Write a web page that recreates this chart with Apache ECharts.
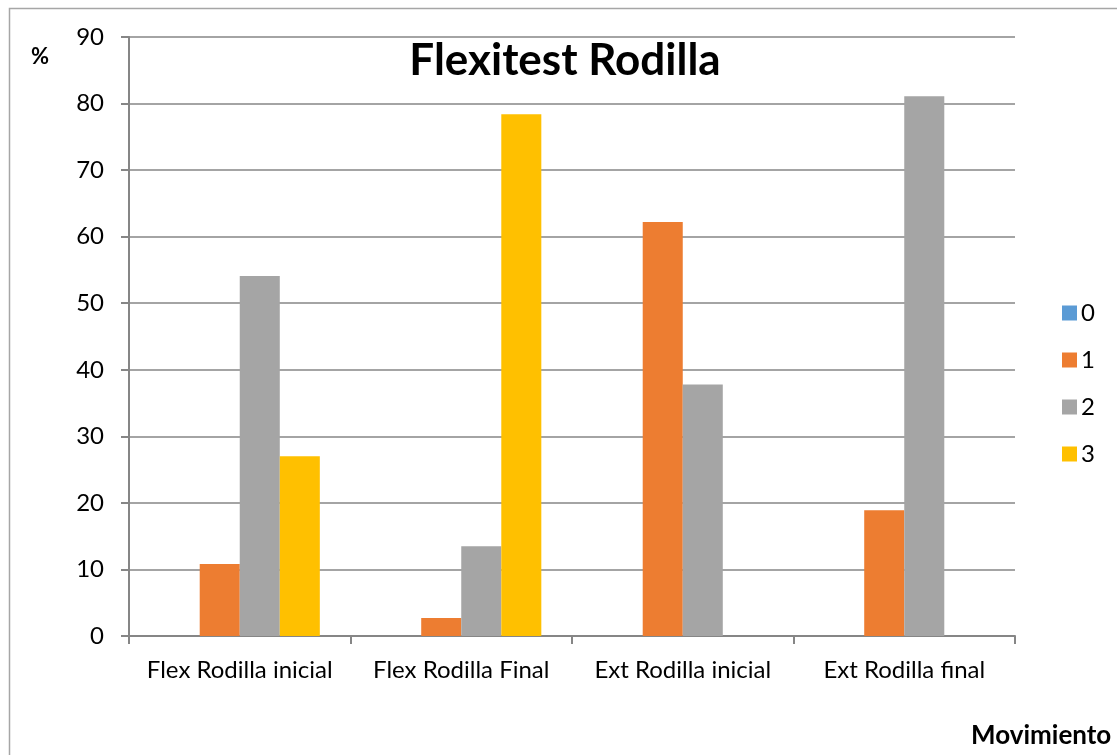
<!DOCTYPE html>
<html>
<head>
<meta charset="utf-8">
<title>Flexitest Rodilla</title>
<script src="https://cdn.jsdelivr.net/npm/echarts@6/dist/echarts.min.js"></script>
<style>
  html, body { margin: 0; padding: 0; background: #fff; }
  #chart { width: 1117px; height: 755px; }
</style>
</head>
<body>
<div id="chart"></div>
<script>
// datos (%)
var categorias = ['Flex Rodilla inicial', 'Flex Rodilla Final', 'Ext Rodilla inicial', 'Ext Rodilla final']
var nivel0 = [0, 0, 0, 0]
var nivel1 = [10.8, 2.7, 62.2, 18.9]
var nivel2 = [54.1, 13.5, 37.8, 81.1]
var nivel3 = [27.0, 78.4, 0, 0]
var nombres = ['0', '1', '2', '3']
var colores = ['#5B9BD5', '#ED7D31', '#A5A5A5', '#FFC000']

var fuente = 'Lato'
var myChart = echarts.init(document.getElementById('chart'))

var series = [nivel0, nivel1, nivel2, nivel3].map(function(d, i) {
  return {
    name: nombres[i],
    type: 'bar',
    barGap: 0,
    barCategoryGap: '27.7%',
    itemStyle: { color: colores[i] },
    data: d
  }
})

var option = {
  animation: false,
  backgroundColor: '#fff',
  textStyle: { fontFamily: fuente },
  title: {
    text: 'Flexitest Rodilla',
    left: 560,
    textAlign: 'center',
    top: 34,
    textStyle: { fontFamily: fuente, fontSize: 44, fontWeight: 'bold', color: '#000' }
  },
  legend: {
    orient: 'vertical',
    left: 1057,
    top: 296,
    itemWidth: 15,
    itemHeight: 15,
    itemGap: 23,
    icon: 'rect',
    textStyle: { fontFamily: fuente, fontSize: 24, color: '#000', padding: [0, 0, 0, -1] },
    data: nombres
  },
  grid: {
    left: 129,
    right: 102,
    top: 37,
    bottom: 119,
    containLabel: false
  },
  xAxis: {
    type: 'category',
    data: categorias,
    axisLine: { lineStyle: { color: '#868686', width: 2 } },
    axisTick: { show: true, length: 8, lineStyle: { color: '#868686', width: 2 } },
    axisLabel: { fontFamily: fuente, fontSize: 24, color: '#000', margin: 22, interval: 0 }
  },
  yAxis: {
    type: 'value',
    min: 0,
    max: 90,
    interval: 10,
    axisLine: { show: true, lineStyle: { color: '#868686', width: 2 } },
    axisTick: { show: true, length: 8, lineStyle: { color: '#868686', width: 2 } },
    splitLine: { lineStyle: { color: '#868686', width: 1.5 } },
    axisLabel: { fontFamily: fuente, fontSize: 24, color: '#000', margin: 25 }
  },
  graphic: [
    {
      type: 'rect',
      shape: { x: 9.5, y: 8.5, width: 1200, height: 800 },
      style: { fill: 'none', stroke: '#a6a6a6', lineWidth: 1.5 },
      silent: true
    },
    {
      type: 'text',
      left: 31,
      top: 46,
      style: { text: '%', font: 'bold 22px ' + fuente, fill: '#000' }
    },
    {
      type: 'text',
      left: 971,
      top: 723,
      style: { text: 'Movimiento', font: 'bold 26px ' + fuente, fill: '#000' }
    }
  ],
  series: series
}

myChart.setOption(option)
</script>
</body>
</html>
